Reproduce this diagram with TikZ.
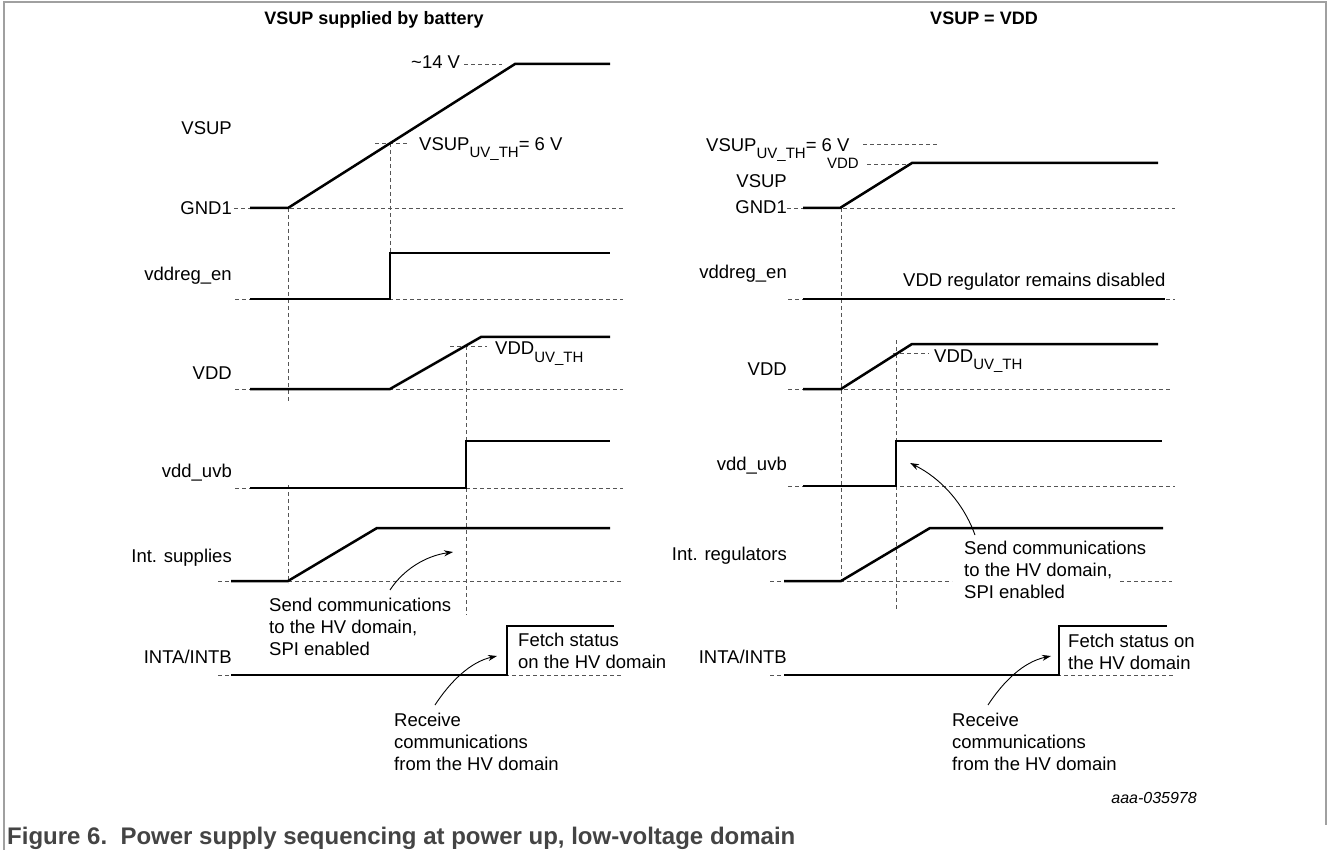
\documentclass[tikz,border=0pt]{standalone}
\usepackage{fontspec}
\setmainfont{Liberation Sans}
\usetikzlibrary{arrows.meta}
\definecolor{framegray}{HTML}{A0A0A0}
\definecolor{dashgray}{HTML}{555555}
\definecolor{capgray}{HTML}{444444}
\newcommand{\mlines}[1]{\begin{tabular}[t]{@{}l@{}}#1\end{tabular}}
\newcommand{\uvth}{\raisebox{-7pt}{\fontsize{15}{15}\selectfont UV\_TH}}
\begin{document}
\begin{tikzpicture}[x=1pt,y=-1pt,
  wave/.style={line width=2.5pt, line join=miter},
  guide/.style={dashgray, line width=0.8pt, dash pattern=on 4pt off 3pt},
  lbl/.style={font=\fontsize{18.5}{22}\selectfont, inner sep=0pt},
  small/.style={font=\fontsize{15}{18}\selectfont, inner sep=0pt},
  ttl/.style={font=\fontsize{18}{22}\selectfont\bfseries, inner sep=0pt},
  ann/.style={-{Stealth[length=9pt,width=6pt]}, line width=0.9pt}]
\useasboundingbox (0,0) rectangle (1328,850);
% frame
\draw[framegray, line width=1.3pt] (4,850) -- (4,2) -- (1326,2) -- (1326,825);
% titles
\node[ttl, anchor=base] (tleft) at (374,25) {VSUP supplied by battery};
\node[ttl, anchor=base] (tright) at (984,25) {VSUP = VDD};

% ================= LEFT PANEL =================
% guides
\draw[guide] (464,64) -- (502,64);
\draw[guide] (375,143) -- (409,143);
\draw[guide] (390,143) -- (390,253);
\draw[guide] (234,208) -- (623,208);
\draw[guide] (288,208) -- (288,402);
\draw[guide] (235,299) -- (623,299);
\draw[guide] (235,389) -- (623,389);
\draw[guide] (450,346) -- (487,346);
\draw[guide] (466,346) -- (466,441);
\draw[guide] (235,488) -- (623,488);
\draw[guide] (466,488) -- (466,615);
\draw[guide] (218,581) -- (623,581);
\draw[guide] (288,485) -- (288,583);
\draw[guide] (218,675) -- (622,675);
% waveforms
\draw[wave] (250,208) -- (288,208) -- (515,64) -- (610,64);
\draw[wave] (250,299) -- (390,299) -- (390,253) -- (610,253);
\draw[wave] (250,389) -- (390,389) -- (481,337) -- (610,337);
\draw[wave] (250,488) -- (466,488) -- (466,441) -- (610,441);
\draw[wave] (231,581) -- (288,581) -- (377,528) -- (610,528);
\draw[wave] (231,675) -- (507,675) -- (507,626) -- (614,626);
% labels
\node[lbl, anchor=base east] (lvsup) at (232,134.6) {VSUP};
\node[lbl, anchor=base east] (lgnd) at (232,214.6) {GND1};
\node[lbl, anchor=base east] (lvreg) at (232,281) {vddreg\_en};
\node[lbl, anchor=base east] (lvdd) at (232,379) {VDD};
\node[lbl, anchor=base east] (luvb) at (232,477) {vdd\_uvb};
\node[lbl, anchor=base east] (lint) at (232,562) {Int. supplies};
\node[lbl, anchor=base east] (linta) at (232,663) {INTA/INTB};
\node[lbl, anchor=base west] (l14) at (411,69) {\textasciitilde14 V};
\node[lbl, anchor=base west] (lvth) at (419,151) {VSUP\uvth= 6 V};
\node[lbl, anchor=base west] (lvddth) at (495,355) {VDD\uvth};
\node[lbl, anchor=base west] (lsend) at (269,611) {\mlines{Send communications\\to the HV domain,\\SPI enabled}};
\node[lbl, anchor=base west] (lfetch) at (518,646) {\mlines{Fetch status\\on the HV domain}};
\node[lbl, anchor=base west] (lrecv) at (394,726) {\mlines{Receive\\communications\\from the HV domain}};
\coordinate (lsendtail) at (390,590);
\coordinate (lsendtip) at (453,552);
\coordinate (lrecvtail) at (435,705);
\coordinate (lrecvtip) at (497,656);
\draw[ann] (lsendtail) .. controls (403,570) and (425,556) .. (lsendtip);
\draw[ann] (lrecvtail) .. controls (450,682) and (470,662) .. (lrecvtip);

% ================= RIGHT PANEL =================
\draw[guide] (863,144) -- (937,144);
\draw[guide] (867,164) -- (910,164);
\draw[guide] (787,208) -- (1175,208);
\draw[guide] (841,208) -- (841,582);
\draw[guide] (788,299) -- (1175,299);
\draw[guide] (788,389) -- (1170,389);
\draw[guide] (893,353) -- (929,353);
\draw[guide] (896,340) -- (896,441);
\draw[guide] (788,486) -- (1175,486);
\draw[guide] (896,486) -- (896,610);
\draw[guide] (770,581) -- (952,581);
\draw[guide] (1120,581) -- (1172,581);
\draw[guide] (770,675) -- (1173,675);
% waveforms
\draw[wave] (803,208) -- (840,208) -- (912,163) -- (1158,163);
\draw[wave] (803,299) -- (1165,299);
\draw[wave] (803,389) -- (841,389) -- (912,344) -- (1158,344);
\draw[wave] (803,486) -- (896,486) -- (896,441) -- (1162,441);
\draw[wave] (784,581) -- (841,581) -- (930,528) -- (1163,528);
\draw[wave] (784,675) -- (1059,675) -- (1059,626) -- (1167,626);
% labels
\node[lbl, anchor=base west] (rvth) at (706,152) {VSUP\uvth= 6 V};
\node[small, anchor=base east] (rvddlvl) at (859,169) {VDD};
\node[lbl, anchor=base east] (rvsup) at (787,188) {VSUP};
\node[lbl, anchor=base east] (rgnd) at (787,214) {GND1};
\node[lbl, anchor=base east] (rvreg) at (787,279) {vddreg\_en};
\node[lbl, anchor=base west] (rdis) at (903,287) {VDD regulator remains disabled};
\node[lbl, anchor=base east] (rvdd) at (787,375) {VDD};
\node[lbl, anchor=base west] (rvddth) at (934,362) {VDD\uvth};
\node[lbl, anchor=base east] (ruvb) at (787,470) {vdd\_uvb};
\node[lbl, anchor=base east] (rint) at (787,560) {Int. regulators};
\node[lbl, anchor=base east] (rinta) at (787,663) {INTA/INTB};
\node[lbl, anchor=base west] (rsend) at (964,554) {\mlines{Send communications\\to the HV domain,\\SPI enabled}};
\node[lbl, anchor=base west] (rfetch) at (1068,647) {\mlines{Fetch status on\\the HV domain}};
\node[lbl, anchor=base west] (rrecv) at (952,726) {\mlines{Receive\\communications\\from the HV domain}};
\coordinate (rsendtail) at (975,535);
\coordinate (rsendtip) at (910,463);
\coordinate (rrecvtail) at (988,705);
\coordinate (rrecvtip) at (1051,656);
\draw[ann] (rsendtail) .. controls (963,502) and (940,478) .. (rsendtip);
\draw[ann] (rrecvtail) .. controls (1003,682) and (1023,662) .. (rrecvtip);

% id and caption
\node[font=\fontsize{16}{18}\selectfont\itshape, inner sep=0pt, anchor=base east] (fid) at (1197,803) {aaa-035978};
\node[font=\fontsize{24}{28}\selectfont\bfseries, text=capgray, inner sep=0pt, anchor=base west] (cap) at (7,844) {Figure 6.\ \ Power supply sequencing at power up, low-voltage domain};
\end{tikzpicture}
\end{document}
